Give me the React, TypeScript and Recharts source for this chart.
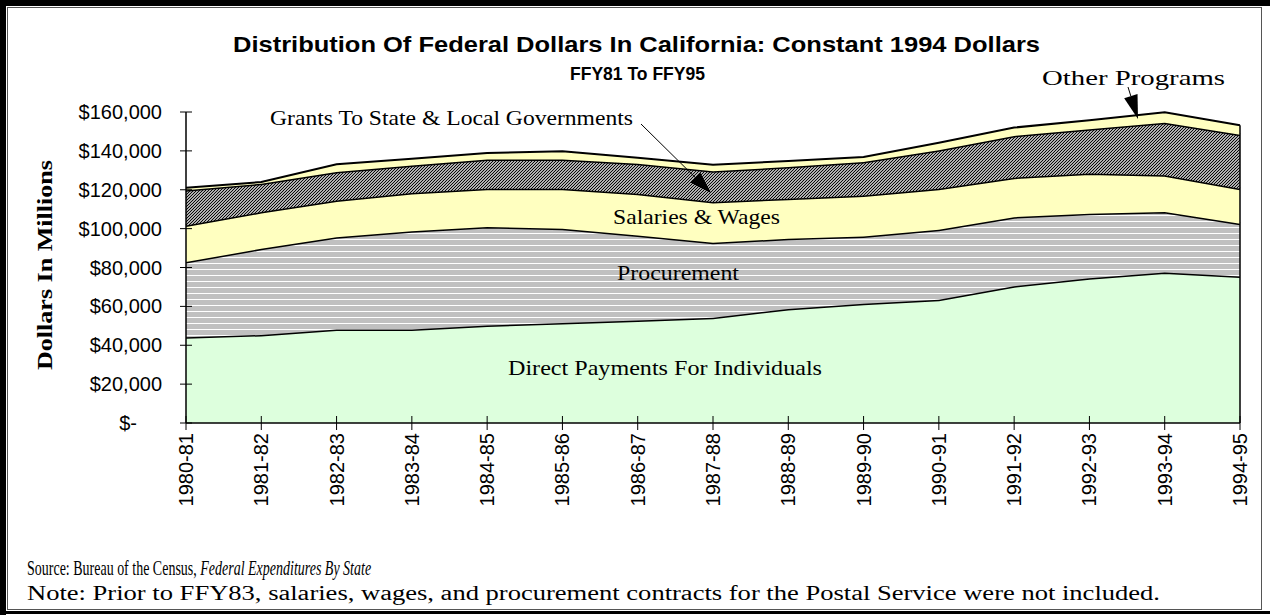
import { AreaChart, Area, XAxis, YAxis, ReferenceLine } from 'recharts'

const years = [
  '1980-81', '1981-82', '1982-83', '1983-84', '1984-85', '1985-86', '1986-87', '1987-88',
  '1988-89', '1989-90', '1990-91', '1991-92', '1992-93', '1993-94', '1994-95',
]
// millions of constant 1994 dollars (stacked bottom to top)
const directPayments = [44100, 45300, 48100, 48100, 50100, 51500, 52700, 54100, 58700, 61300, 63400, 70400, 74500, 77400, 75400]
const procurement = [38700, 44300, 47500, 50500, 50700, 48400, 43800, 38600, 36100, 34700, 36000, 35500, 33200, 31100, 27100]
const salariesWages = [18800, 18900, 18900, 19700, 19700, 20600, 21500, 21000, 20600, 21100, 21100, 20300, 20600, 18900, 18000]
const grants = [18200, 14600, 14600, 14200, 15100, 15000, 15400, 15800, 16300, 17200, 19800, 21500, 22800, 27100, 27800]
const otherPrograms = [1200, 900, 4000, 3500, 3300, 4300, 3100, 3400, 3100, 2500, 3900, 4300, 4600, 5400, 4900]
const yTicks = [0, 20000, 40000, 60000, 80000, 100000, 120000, 140000, 160000]

const data = years.map((year, i) => ({
  year,
  direct: directPayments[i],
  procurement: procurement[i],
  salaries: salariesWages[i],
  grants: grants[i],
  other: otherPrograms[i],
}))

const lastIdx = years.length - 1
const lastTotal =
  directPayments[lastIdx] + procurement[lastIdx] + salariesWages[lastIdx] + grants[lastIdx] + otherPrograms[lastIdx]

const SANS = '"Liberation Sans", Arial, sans-serif'
const SERIF = '"Liberation Serif", "Times New Roman", serif'

const money = (v: number) => (v === 0 ? '$-' : '$' + v.toLocaleString('en-US'))

function YTick({ x, y, payload }: { x?: number; y?: number; payload?: { value: number } }) {
  const v = payload?.value ?? 0
  return (
    <g>
      <line x1={x! - 6} x2={x! + 6} y1={y} y2={y} stroke="#000" strokeWidth={1} />
      <text
        x={x! - (v === 0 ? 49 : 24)}
        y={y}
        dy="0.35em"
        textAnchor="end"
        fontFamily={SANS}
        fontSize={20}
        fill="#000"
      >
        {money(v)}
      </text>
    </g>
  )
}

function XTick({ x, y, payload }: { x?: number; y?: number; payload?: { value: string } }) {
  return (
    <g>
      <line x1={x} x2={x} y1={y! - 7} y2={y! + 7} stroke="#000" strokeWidth={1} />
      <text
        transform={`translate(${x},${y! + 10}) rotate(-90)`}
        dy="0.35em"
        textAnchor="end"
        fontFamily={SANS}
        fontSize={20}
        fill="#000"
      >
        {payload?.value}
      </text>
    </g>
  )
}

function Arrow({ from, to, head = 22, half = 7 }: { from: [number, number]; to: [number, number]; head?: number; half?: number }) {
  const dx = to[0] - from[0]
  const dy = to[1] - from[1]
  const len = Math.hypot(dx, dy)
  const ux = dx / len
  const uy = dy / len
  const bx = to[0] - ux * head
  const by = to[1] - uy * head
  const p1 = `${bx - uy * half},${by + ux * half}`
  const p2 = `${bx + uy * half},${by - ux * half}`
  return (
    <g>
      <line x1={from[0]} y1={from[1]} x2={bx} y2={by} stroke="#000" strokeWidth={1} />
      <polygon points={`${to[0]},${to[1]} ${p1} ${p2}`} fill="#000" />
    </g>
  )
}

function Overlay() {
  return (
    <svg
      width={1270}
      height={615}
      style={{ position: 'absolute', left: 0, top: 0, pointerEvents: 'none' }}
    >
      <text x={233} y={52} fontFamily={SANS} fontWeight="bold" fontSize={22} textLength={807} lengthAdjust="spacingAndGlyphs">
        Distribution Of Federal Dollars In California: Constant 1994 Dollars
      </text>
      <text x={570} y={80} fontFamily={SANS} fontWeight="bold" fontSize={19} textLength={135} lengthAdjust="spacingAndGlyphs">
        FFY81 To FFY95
      </text>
      <text
        transform="translate(52,265) rotate(-90)"
        textAnchor="middle"
        fontFamily={SERIF}
        fontWeight="bold"
        fontSize={20}
        textLength={210}
        lengthAdjust="spacingAndGlyphs"
      >
        Dollars In Millions
      </text>

      <text x={270} y={125} fontFamily={SERIF} fontSize={21} textLength={363} lengthAdjust="spacingAndGlyphs">
        Grants To State &amp; Local Governments
      </text>
      <Arrow from={[641, 124]} to={[711, 193]} />
      <text x={1042} y={85} fontFamily={SERIF} fontSize={21} textLength={183} lengthAdjust="spacingAndGlyphs">
        Other Programs
      </text>
      <Arrow from={[1128, 87]} to={[1138, 119]} head={24} half={7} />

      <text x={613} y={224} fontFamily={SERIF} fontSize={21} textLength={167} lengthAdjust="spacingAndGlyphs">
        Salaries &amp; Wages
      </text>
      <text x={617} y={280} fontFamily={SERIF} fontSize={21} textLength={122} lengthAdjust="spacingAndGlyphs">
        Procurement
      </text>
      <text x={508} y={375} fontFamily={SERIF} fontSize={21} textLength={314} lengthAdjust="spacingAndGlyphs">
        Direct Payments For Individuals
      </text>

      {/* the source line is set in a condensed face in the original */}
      <text transform="translate(27,575) scale(0.7,1)" fontFamily={SERIF} fontSize={20}>
        Source: Bureau of the Census, <tspan fontStyle="italic">Federal Expenditures By State</tspan>
      </text>
      <text x={27} y={600} fontFamily={SERIF} fontSize={20} textLength={1133} lengthAdjust="spacingAndGlyphs">
        Note: Prior to FFY83, salaries, wages, and procurement contracts for the Postal Service were not included.
      </text>
    </svg>
  )
}

export default function App() {
  return (
    <div style={{ position: 'absolute', left: 0, top: 0, width: 1270, height: 615, background: '#fff', overflow: 'hidden' }}>
      {/* frame: heavy black left/top edge, thin inner box, black bottom rule */}
      <div style={{ position: 'absolute', left: 0, top: 0, width: 6, height: 615, background: '#000' }} />
      <div style={{ position: 'absolute', left: 0, top: 0, width: 1270, height: 6, background: '#000' }} />
      <div style={{ position: 'absolute', left: 7, top: 7, width: 1253, height: 601, border: '1px solid #555' }} />
      <div style={{ position: 'absolute', left: 0, top: 611, width: 1270, height: 3, background: '#000' }} />

      <div style={{ position: 'absolute', left: 0, top: 0 }}>
        <AreaChart width={1270} height={615} data={data} margin={{ top: 112, right: 30, bottom: 92, left: 86 }}>
          <defs>
            <pattern id="procLines" patternUnits="userSpaceOnUse" width={8} height={6}>
              <rect width={8} height={6} fill="#c0c0c0" />
              <rect y={5} width={8} height={1} fill="#fff" />
            </pattern>
            <pattern id="grantHatch" patternUnits="userSpaceOnUse" width={3} height={3}>
              <rect width={3} height={3} fill="#fff" />
              <path d="M-1,1 l2,-2 M0,3 l3,-3 M2,4 l2,-2" stroke="#000" strokeWidth={1.2} />
            </pattern>
          </defs>
          <XAxis
            dataKey="year"
            interval={0}
            height={100}
            tickSize={0}
            tickMargin={0}
            tickLine={false}
            axisLine={{ stroke: '#000', strokeWidth: 1.5 }}
            tick={<XTick />}
          />
          <YAxis
            width={100}
            domain={[0, 160000]}
            ticks={yTicks}
            interval={0}
            tickSize={0}
            tickMargin={0}
            tickLine={false}
            axisLine={{ stroke: '#000', strokeWidth: 1.5 }}
            tick={<YTick />}
          />
          <Area type="linear" dataKey="direct" stackId="1" fill="#ddffdd" fillOpacity={1} stroke="#000" strokeWidth={3} isAnimationActive={false} />
          <Area type="linear" dataKey="procurement" stackId="1" fill="url(#procLines)" fillOpacity={1} stroke="#000" strokeWidth={3} isAnimationActive={false} />
          <Area type="linear" dataKey="salaries" stackId="1" fill="#ffffc0" fillOpacity={1} stroke="#000" strokeWidth={3} isAnimationActive={false} />
          <Area type="linear" dataKey="grants" stackId="1" fill="url(#grantHatch)" fillOpacity={1} stroke="#000" strokeWidth={3} isAnimationActive={false} />
          <Area type="linear" dataKey="other" stackId="1" fill="#ffffc0" fillOpacity={1} stroke="#000" strokeWidth={2} isAnimationActive={false} />
          <ReferenceLine
            segment={[{ x: years[lastIdx], y: 0 }, { x: years[lastIdx], y: lastTotal }]}
            stroke="#000"
            strokeWidth={1.5}
          />
        </AreaChart>
      </div>
      <Overlay />
    </div>
  )
}
